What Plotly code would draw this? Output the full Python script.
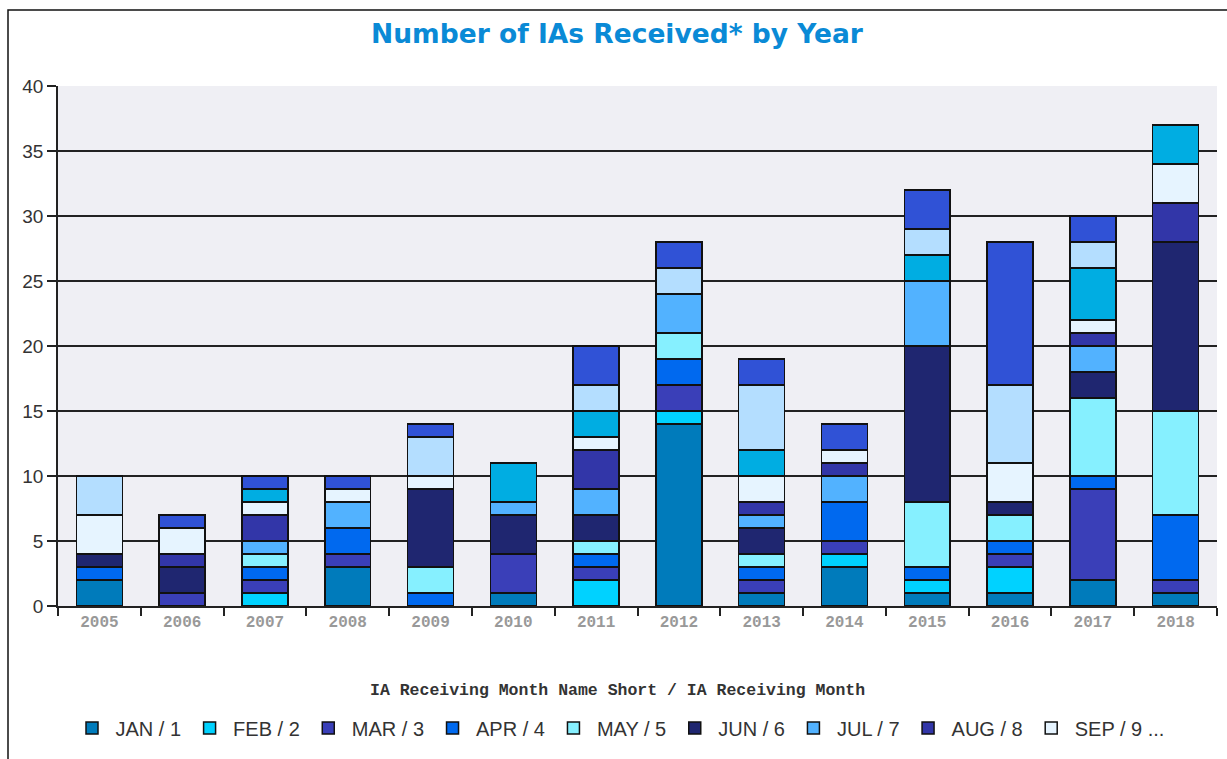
import plotly.graph_objects as go

# Years on the x axis
years = ["2005", "2006", "2007", "2008", "2009", "2010", "2011",
         "2012", "2013", "2014", "2015", "2016", "2017", "2018"]

# IAs received per month, one list per month across the years
jan = [2, 0, 0, 3, 0, 1, 0, 14, 1, 3, 1, 1, 2, 1]
feb = [0, 0, 1, 0, 0, 0, 2, 1, 0, 1, 1, 2, 0, 0]
mar = [0, 1, 1, 1, 0, 3, 1, 2, 1, 1, 0, 1, 7, 1]
apr = [1, 0, 1, 2, 1, 0, 1, 2, 1, 3, 1, 1, 1, 5]
may = [0, 0, 1, 0, 2, 0, 1, 2, 1, 0, 5, 2, 6, 8]
jun = [1, 2, 0, 0, 6, 3, 2, 0, 2, 0, 12, 1, 2, 13]
jul = [0, 0, 1, 2, 0, 1, 2, 3, 1, 2, 5, 0, 2, 0]
aug = [0, 1, 2, 0, 0, 0, 3, 0, 1, 1, 0, 0, 1, 3]
sep = [3, 2, 1, 1, 1, 0, 1, 0, 2, 1, 0, 3, 1, 3]
oct_ = [0, 0, 1, 0, 0, 3, 2, 0, 2, 0, 2, 0, 4, 3]
nov = [3, 0, 0, 0, 3, 0, 2, 2, 5, 0, 2, 6, 2, 0]
dec = [0, 1, 1, 1, 1, 0, 3, 2, 2, 2, 3, 11, 2, 0]

month_labels = ["JAN / 1", "FEB / 2", "MAR / 3", "APR / 4", "MAY / 5", "JUN / 6",
                "JUL / 7", "AUG / 8", "SEP / 9", "OCT / 10", "NOV / 11", "DEC / 12"]
month_values = [jan, feb, mar, apr, may, jun, jul, aug, sep, oct_, nov, dec]
month_colors = ["#007BBB", "#00D2FF", "#3A3FB8", "#0069EF", "#86F0FF", "#1F2670",
                "#52B2FF", "#3236A8", "#E6F4FF", "#00ADE2", "#B4DEFF", "#3052D6"]

fig = go.Figure()
for i, (label, vals, color) in enumerate(zip(month_labels, month_values, month_colors)):
    legend_name = label + " ..." if i == 8 else label
    fig.add_trace(go.Bar(
        x=years, y=vals, name=legend_name,
        marker=dict(color=color, line=dict(color="#111111", width=1.5)),
        showlegend=i < 9,
        hovertemplate="%{x}<br>" + label + ": %{y}<extra></extra>",
    ))

fig.update_layout(
    width=1227, height=759,
    barmode="stack", bargap=0.445,
    paper_bgcolor="white", plot_bgcolor="#EFEFF4",
    margin=dict(l=58, r=10, t=86, b=153, autoexpand=False),
    title=dict(text="Number of IAs Received* by Year", x=(617 - 58) / 1159,
               xref="paper", xanchor="center",
               y=1 - 34 / 759, yanchor="middle",
               font=dict(family="DejaVu Sans, Verdana, sans-serif", size=26.5,
                         color="#0A8AD6", weight="bold")),
    xaxis=dict(type="category", tickson="boundaries", ticks="outside", ticklen=8,
               tickcolor="#222222", tickwidth=1.5, showline=True, linecolor="#222222",
               linewidth=1.5, showgrid=False,
               tickfont=dict(family="Liberation Mono, Courier New, monospace",
                             size=16, color="#999999", weight="bold")),
    yaxis=dict(range=[0, 40], dtick=5, ticks="outside", ticklen=9, tickcolor="#222222",
               tickwidth=1.5, showline=True, linecolor="#222222", linewidth=1.5,
               showgrid=True, gridcolor="#222222", gridwidth=1.5, zeroline=False,
               tickfont=dict(family="Arial, Liberation Sans, sans-serif", size=19,
                             color="#333333")),
    legend=dict(orientation="h", x=(619 - 58) / 1159, xanchor="center",
                y=(606 - 728) / 520, yanchor="middle", traceorder="normal",
                itemwidth=37,
                font=dict(family="Arial, Liberation Sans, sans-serif", size=20,
                          color="#333333")),
    showlegend=True,
)

fig.add_annotation(
    text="IA Receiving Month Name Short / IA Receiving Month",
    xref="paper", yref="paper", x=(617 - 58) / 1159, y=(606 - 690) / 520,
    xanchor="center", yanchor="middle", showarrow=False,
    font=dict(family="Liberation Mono, Courier New, monospace", size=16.5,
              color="#333333", weight="bold"),
)

# Frame around the chart
fig.add_shape(type="rect", xref="paper", yref="paper",
              x0=(8 - 58) / 1159, x1=1.05, y0=-0.5, y1=(606 - 10) / 520,
              line=dict(color="#111111", width=1.5), fillcolor="rgba(0,0,0,0)",
              layer="below")

fig.write_html("out.html")
